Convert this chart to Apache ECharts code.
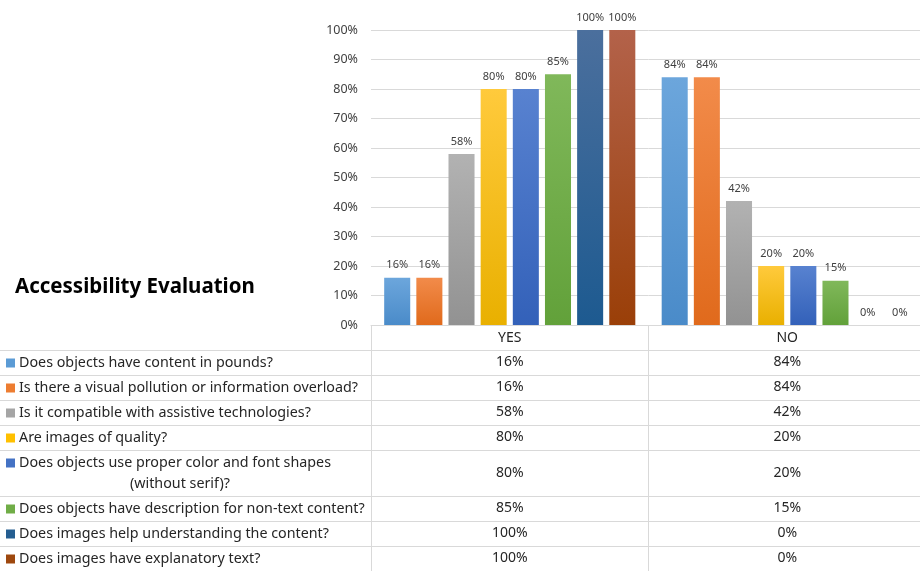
<!DOCTYPE html>
<html>
<head>
<meta charset="utf-8">
<script src="https://cdn.jsdelivr.net/npm/echarts@6/dist/echarts.min.js"></script>
<style>
html,body{margin:0;padding:0;background:#fff;overflow:hidden;width:920px;height:571px;}
#chart{width:926px;height:571px;}
</style>
</head>
<body>
<div id="chart"></div>
<script>
// ---- data ----
const categories = ['YES', 'NO'];
const questions = [
  'Does objects have content in pounds?',
  'Is there a visual pollution or information overload?',
  'Is it compatible with assistive technologies?',
  'Are images of quality?',
  'Does objects use proper color and font shapes\n(without serif)?',
  'Does objects have description for non-text content?',
  'Does images help understanding the content?',
  'Does images have explanatory text?'
];
const yesValues = [16, 16, 58, 80, 80, 85, 100, 100];
const noValues = [84, 84, 42, 20, 20, 15, 0, 0];
const chartTitle = 'Accessibility Evaluation';

// ---- styles / layout ----
const topColors = ['#6ca6dc', '#f28b4a', '#b2b2b2', '#ffca3c', '#5882d0', '#80b85a', '#4b6f9d', '#b3624a'];
const bottomColors = ['#4a8bc9', '#e06a1c', '#929292', '#e9b000', '#3361b9', '#62a13a', '#1d5a90', '#9a3f08'];
const keyColors = ['#5b9bd5', '#ed7d31', '#a5a5a5', '#ffc000', '#4472c4', '#70ad47', '#255e91', '#9e480e'];
const rowBounds = [350, 375, 400, 425, 450, 496, 521, 546, 571];
const gridLeft = 371, gridRight = 0, gridTop = 30, gridBottomY = 325;
const lineColor = '#d9d9d9';
const textColor = '#262626';
const fontFam = '"Noto Sans", sans-serif';

const chart = echarts.init(document.getElementById('chart'), null, {renderer: 'canvas'});

const series = questions.map((q, i) => ({
  name: q,
  type: 'bar',
  data: [yesValues[i], noValues[i]],
  barGap: '23.5%',
  barCategoryGap: '9.5%',
  itemStyle: {
    color: new echarts.graphic.LinearGradient(0, 0, 0, 1, [
      {offset: 0, color: topColors[i]},
      {offset: 1, color: bottomColors[i]}
    ])
  },
  label: {
    show: true,
    position: 'top',
    distance: 7,
    formatter: '{c}%',
    color: '#404040',
    fontSize: 11,
    fontFamily: fontFam
  },
  animation: false
}));

chart.setOption({
  animation: false,
  backgroundColor: '#fff',
  grid: {left: gridLeft, right: gridRight, top: gridTop, bottom: 571 - gridBottomY, containLabel: false},
  xAxis: {
    type: 'category',
    data: categories,
    axisLine: {show: true, lineStyle: {color: lineColor}},
    axisTick: {show: true, length: 571 - gridBottomY, lineStyle: {color: lineColor}},
    axisLabel: {margin: 6, color: textColor, fontSize: 14, fontFamily: fontFam}
  },
  yAxis: {
    type: 'value',
    min: 0, max: 100, interval: 10,
    axisLine: {show: false},
    axisTick: {show: false},
    axisLabel: {formatter: '{value}%', margin: 13, color: '#404040', fontSize: 12.5, fontFamily: fontFam},
    splitLine: {lineStyle: {color: lineColor}}
  },
  series: series
});

// ---- table (legend keys, labels, values) ----
const colX = categories.map(c => chart.convertToPixel({xAxisIndex: 0}, c));
const els = [];
els.push({
  type: 'text', left: 15, top: 277,
  style: {text: chartTitle, fill: '#000', font: 'bold 20.5px ' + fontFam}
});
for (let r = 0; r < questions.length; r++) {
  const y0 = rowBounds[r], y1 = rowBounds[r + 1];
  const yc = (y0 + y1) / 2;
  els.push({type: 'line', shape: {x1: 0, y1: y0 + 0.5, x2: 926, y2: y0 + 0.5}, style: {stroke: lineColor, lineWidth: 1}, silent: true});
  const lines = questions[r].split('\n');
  const lh = 21;
  const firstY = yc - (lines.length - 1) * lh / 2;
  els.push({type: 'rect', shape: {x: 6, y: firstY - 4, width: 9, height: 9}, style: {fill: keyColors[r]}});
  lines.forEach((t, k) => {
    els.push({
      type: 'text',
      x: k === 0 ? 19 : 180,
      y: firstY + k * lh,
      style: {text: t, fill: textColor, font: '14.3px ' + fontFam, align: k === 0 ? 'left' : 'center', verticalAlign: 'middle'}
    });
  });
  [yesValues[r], noValues[r]].forEach((v, c) => {
    els.push({
      type: 'text', x: colX[c], y: yc,
      style: {text: v + '%', fill: textColor, font: '14px ' + fontFam, align: 'center', verticalAlign: 'middle'}
    });
  });
}
chart.setOption({graphic: {elements: els}});
</script>
</body>
</html>
